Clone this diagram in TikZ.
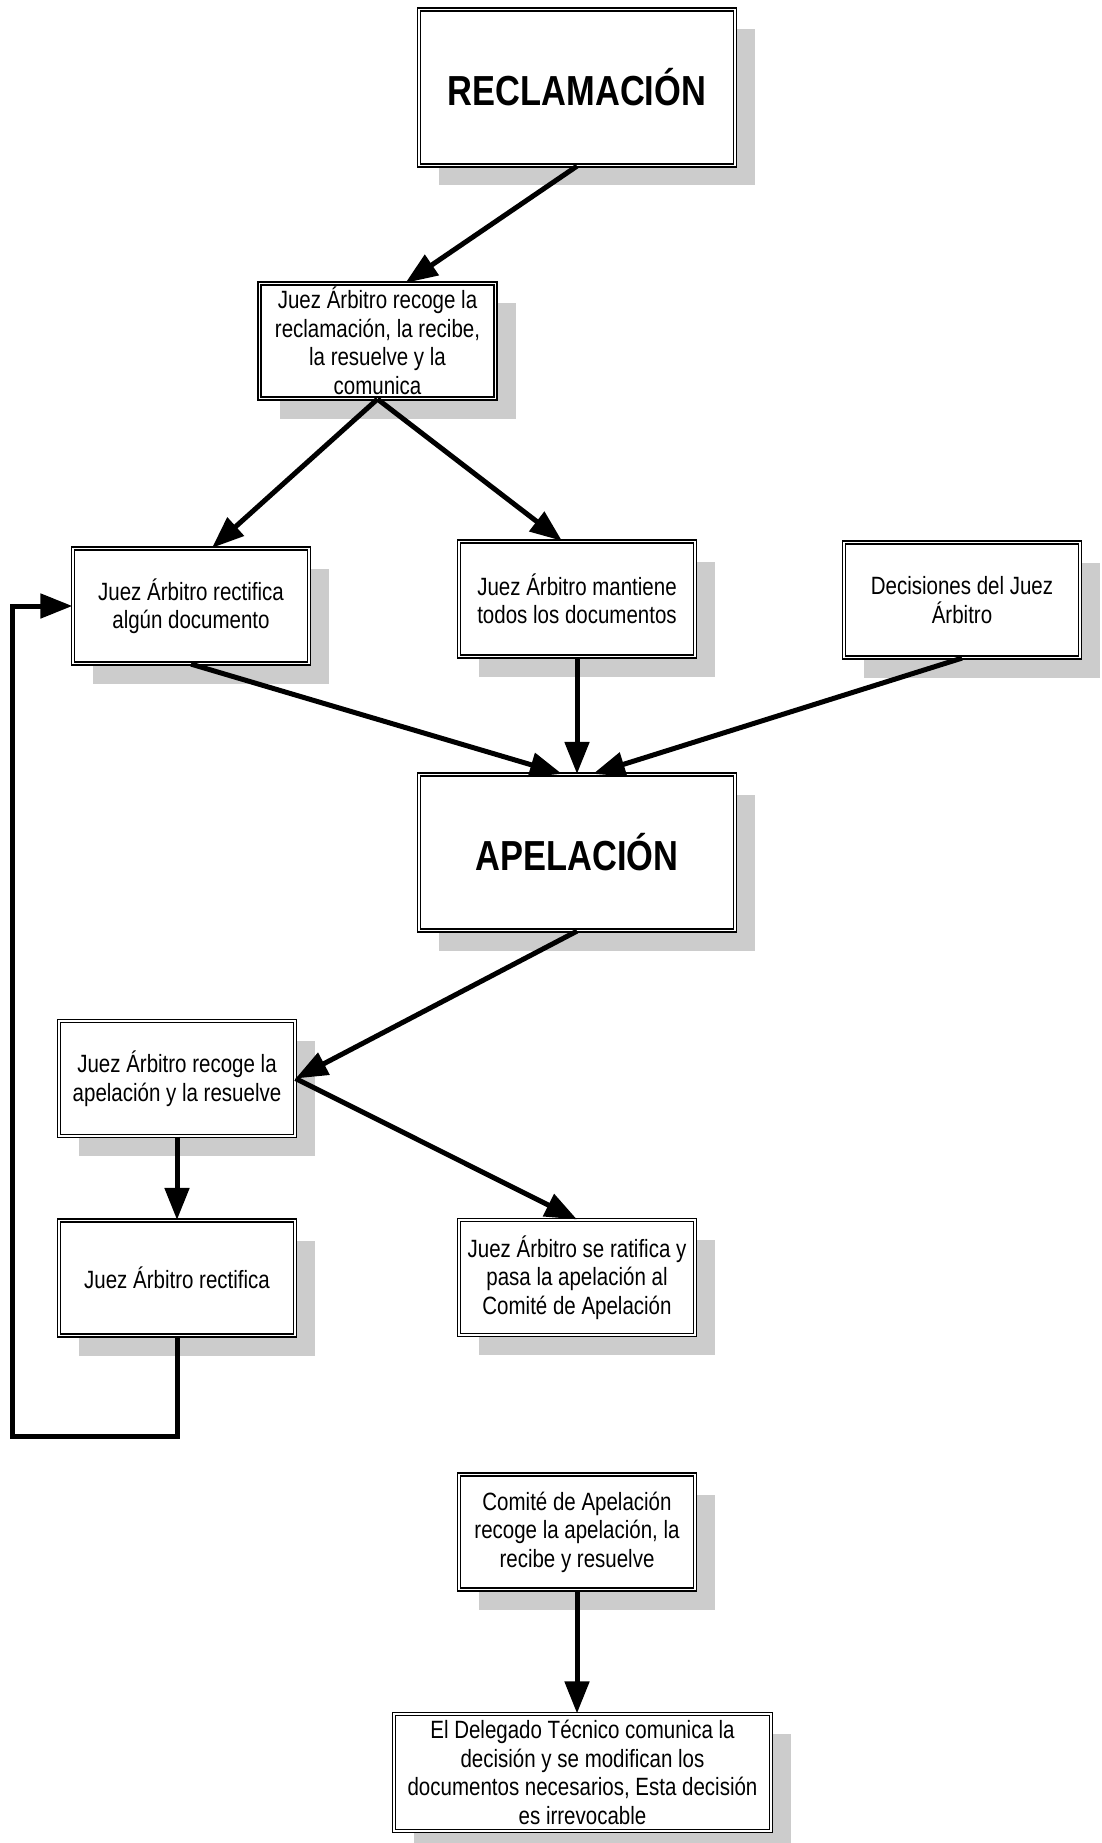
\documentclass[tikz,border=0pt]{standalone}
\usepackage{fontspec}
\setmainfont{Liberation Sans}[FakeStretch=0.82]
\usetikzlibrary{arrows.meta,shadows}

\tikzset{
  caja/.style={draw, double, line width=1.2pt, double distance=1.8pt, fill=white,
    align=center, minimum width=236pt, minimum height=115pt, inner sep=2pt,
    font=\fontsize{25}{28.5}\selectfont,
    drop shadow={shadow xshift=20pt, shadow yshift=-20pt, fill=black!20, opacity=1}},
  cajagrande/.style={caja, minimum width=316pt, minimum height=156pt,
    font=\fontsize{42}{48}\selectfont\bfseries},
  flecha/.style={line width=5pt, -{Triangle[length=32pt,width=24pt]}},
}

\begin{document}
\begin{tikzpicture}[x=1pt, y=-1pt]
  \useasboundingbox (0,0) rectangle (1101,1843);
  \node [cajagrande] (recl) at (577,87.5) {RECLAMACIÓN};
  \node [caja] (jrec) at (377.5,341) {Juez Árbitro recoge la\\reclamación, la recibe,\\la resuelve y la\\comunica};
  \node [caja] (jrect) at (191,606) {Juez Árbitro rectifica\\algún documento};
  \node [caja] (jmant) at (577,599) {Juez Árbitro mantiene\\todos los documentos};
  \node [caja] (decis) at (962,600) {Decisiones del Juez\\Árbitro};
  \node [cajagrande] (apel) at (577,852.5) {APELACIÓN};
  \node [caja] (jrecap) at (177,1078.5) {Juez Árbitro recoge la\\apelación y la resuelve};
  \node [caja] (jrectif) at (177,1278) {Juez Árbitro rectifica};
  \node [caja] (ratif) at (577,1277.5) {Juez Árbitro se ratifica y\\pasa la apelación al\\Comité de Apelación};
  \node [caja] (comite) at (577,1532) {Comité de Apelación\\recoge la apelación, la\\recibe y resuelve};
  \node [caja, minimum width=377pt, minimum height=117pt] (deleg) at (582.5,1772.5) {El Delegado Técnico comunica la\\decisión y se modifican los\\documentos necesarios, Esta decisión\\es irrevocable};
  \coordinate (esq) at (12,1436);

  \draw [flecha] (recl.south) -- ([xshift=28pt]jrec.north);
  \draw [flecha] (jrec.south) -- ([xshift=21pt]jrect.north);
  \draw [flecha] (jrec.south) -- ([xshift=-15pt]jmant.north);
  \draw [flecha] (jrect.south) -- ([xshift=-15pt]apel.north);
  \draw [flecha] (jmant.south) -- (apel.north);
  \draw [flecha] (decis.south) -- ([xshift=16pt]apel.north);
  \draw [flecha] (apel.south) -- (jrecap.east);
  \draw [flecha] (jrecap.east) -- (ratif.north);
  \draw [flecha] (jrecap.south) -- (jrectif.north);
  \draw [flecha] (jrectif.south) |- (esq) |- (jrect.west);
  \draw [flecha] (comite.south) -- (comite.south |- deleg.north);
\end{tikzpicture}
\end{document}
